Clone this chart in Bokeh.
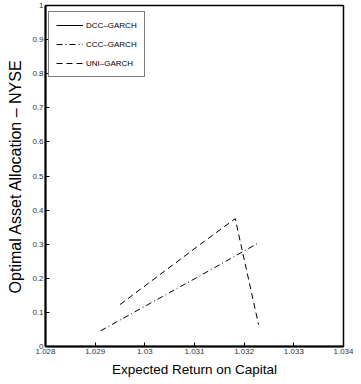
from bokeh.plotting import figure
from bokeh.models import Legend, LegendItem, FixedTicker
from bokeh.embed import file_html
from bokeh.resources import INLINE

# Data
nan = float("nan")
dcc_x = [nan]
dcc_y = [nan]
ccc_x = [1.02911, 1.03072, 1.03112, 1.03229]
ccc_y = [0.046, 0.176, 0.208, 0.304]
uni_x = [1.02950, 1.03112, 1.03182, 1.03229]
uni_y = [0.123, 0.300, 0.375, 0.064]

x_ticks = [1.028, 1.029, 1.030, 1.031, 1.032, 1.033, 1.034]
x_labels = {1.028: "1.028", 1.029: "1.029", 1.030: "1.03", 1.031: "1.031",
            1.032: "1.032", 1.033: "1.033", 1.034: "1.034"}
y_ticks = [0, 0.1, 0.2, 0.3, 0.4, 0.5, 0.6, 0.7, 0.8, 0.9, 1.0]
y_labels = {0: "0", 0.1: "0.1", 0.2: "0.2", 0.3: "0.3", 0.4: "0.4", 0.5: "0.5",
            0.6: "0.6", 0.7: "0.7", 0.8: "0.8", 0.9: "0.9", 1.0: "1"}

FONT = "Liberation Sans"

p = figure(frame_width=298, frame_height=341, x_range=(1.028, 1.034), y_range=(0, 1),
           output_backend="svg", toolbar_location=None,
           min_border_left=45, min_border_top=5, min_border_right=10, min_border_bottom=30)
p.grid.visible = False
p.outline_line_color = "black"
p.outline_line_width = 1.5
p.background_fill_color = "white"

r_dcc = p.line(dcc_x, dcc_y, line_color="black", line_width=1)
r_ccc = p.line(ccc_x, ccc_y, line_color="black", line_width=1, line_dash="6 3 1 3")
r_uni = p.line(uni_x, uni_y, line_color="black", line_width=1, line_dash="6 4")

def style(ax):
    ax.axis_line_color = "black"
    ax.axis_line_width = 2
    ax.major_tick_in = 4
    ax.major_tick_out = 0
    ax.minor_tick_line_color = None
    ax.major_tick_line_color = "black"
    ax.major_label_text_font = FONT
    ax.major_label_text_font_size = "8px"
    ax.major_label_text_color = "#333333"
    ax.major_label_standoff = 2
    ax.axis_label_text_font = FONT
    ax.axis_label_text_font_style = "normal"
    ax.axis_label_text_color = "black"

xa = p.xaxis[0]
xa.ticker = FixedTicker(ticks=x_ticks)
xa.major_label_overrides = x_labels
style(xa)
xa.axis_label = "Expected Return on Capital"
xa.axis_label_text_font_size = "13.5px"
xa.axis_label_standoff = 5

ya = p.yaxis[0]
ya.ticker = FixedTicker(ticks=y_ticks)
ya.major_label_overrides = y_labels
style(ya)
ya.axis_label = "Optimal Asset Allocation \u2013 NYSE"
ya.axis_label_text_font_size = "16px"
ya.axis_label_standoff = 5

legend = Legend(items=[LegendItem(label="DCC\u2013GARCH", renderers=[r_dcc]),
                       LegendItem(label="CCC\u2013GARCH", renderers=[r_ccc]),
                       LegendItem(label="UNI\u2013GARCH", renderers=[r_uni])],
                location="top_left")
legend.label_text_font = FONT
legend.label_text_font_size = "8px"
legend.label_text_color = "black"
legend.glyph_width = 27
legend.glyph_height = 12
legend.label_height = 12
legend.spacing = 7
legend.padding = 7
legend.margin = 0
legend.location = (3, 341 - 7 - 65)
legend.label_standoff = 3
legend.border_line_color = "black"
legend.border_line_width = 1.5
legend.background_fill_alpha = 1
p.add_layout(legend, "center")

open("out.html", "w").write(file_html(p, INLINE))
